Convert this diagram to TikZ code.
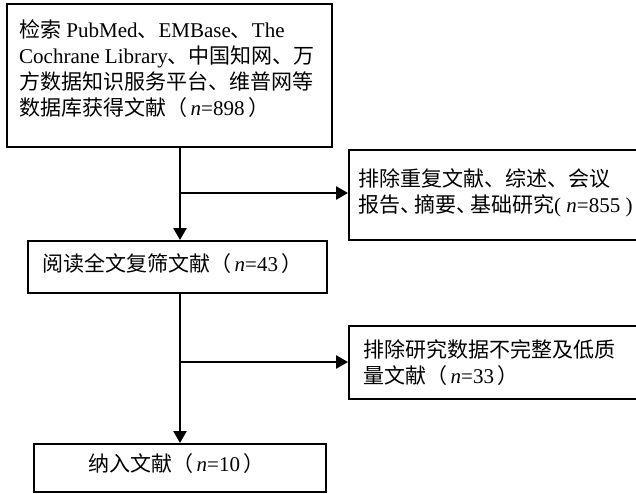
\documentclass[tikz,border=0pt]{standalone}
\usepackage{fontspec}
\setmainfont{Liberation Serif}
\newfontfamily\cjk{Noto Sans CJK SC}
\newcommand\zh[1]{{\cjk #1}}
\usetikzlibrary{arrows.meta}
\begin{document}
\begin{tikzpicture}[x=1pt,y=-1pt,
  box/.style={draw,line width=2.4pt,inner sep=0pt,anchor=north west},
  txt/.style={anchor=north west,inner sep=0pt,align=left,font=\fontsize{21}{26}\selectfont},
  arr/.style={line width=2.6pt,-{Triangle[length=12pt,width=13pt]}}]
\useasboundingbox (0,0) rectangle (636,493);
\fill[white] (0,0) rectangle (636,493);
% boxes
\node[box,minimum width=325pt,minimum height=143pt] (b1) at (6,3) {};
\node[box,minimum width=292pt,minimum height=90pt] (b2) at (348,149) {};
\node[box,minimum width=299pt,minimum height=52pt] (b3) at (27,240) {};
\node[box,minimum width=292pt,minimum height=73pt] (b4) at (348,325) {};
\node[box,minimum width=292pt,minimum height=48pt] (b5) at (33,443) {};
% texts
\node[txt] (t1) at (19,20) {\zh{检索} PubMed\zh{、}EMBase\zh{、}The\\
Cochrane Library\zh{、中国知网、万}\\
\zh{方数据知识服务平台、维普网等}\\
\zh{数据库获得文献（}\,\textit{n}=898\,\zh{）}};
\node[txt] (t2) at (358,169) {\zh{排除重复文献、综述、会议}\\
\zh{报告}\zh{、}\hspace{-7pt}\zh{摘要}\zh{、}\hspace{-7pt}\zh{基础研究}( \textit{n}=855 )};
\node[txt] (t3) at (42,253) {\zh{阅读全文复筛文献（}\,\textit{n}=43\,\zh{）}};
\node[txt] (t4) at (363,339) {\zh{排除研究数据不完整及低质}\\
\zh{量文献（}\,\textit{n}=33\,\zh{）}};
\node[txt] (t5) at (88,453) {\zh{纳入文献（}\,\textit{n}=10\,\zh{）}};
% connectors
\coordinate (tx) at (180,0);
\coordinate (j1) at (180,193);
\coordinate (j2) at (180,362);
\draw[arr] (b1.south -| tx) -- (b3.north -| tx);
\draw[arr] (j1) -- (j1 -| b2.west);
\draw[arr] (b3.south -| tx) -- (b5.north -| tx);
\draw[arr] (j2) -- (j2 -| b4.west);
\end{tikzpicture}
\end{document}
